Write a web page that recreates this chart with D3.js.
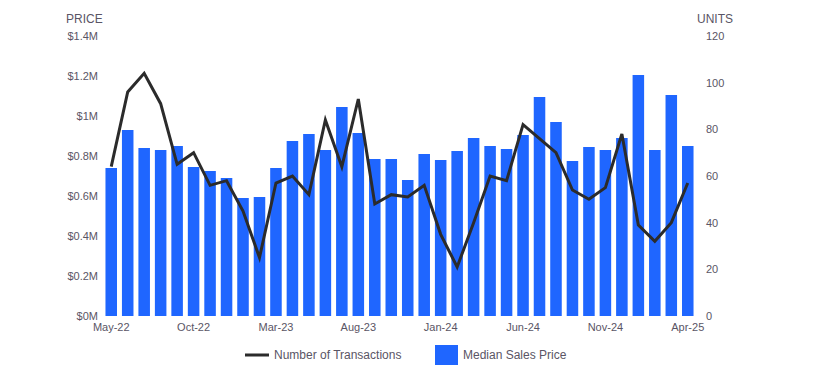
<!DOCTYPE html>
<html>
<head>
<meta charset="utf-8">
<script src="https://cdn.jsdelivr.net/npm/d3@7"></script>
<style>
  body { margin: 0; background: #fff; }
  text { font-family: "Liberation Sans", Arial, sans-serif; fill: #5a5565; }
</style>
</head>
<body>
<svg id="chart" width="816" height="380"></svg>
<script>
// months shown on the x axis
var months = ["May-22","Jun-22","Jul-22","Aug-22","Sep-22","Oct-22","Nov-22","Dec-22",
  "Jan-23","Feb-23","Mar-23","Apr-23","May-23","Jun-23","Jul-23","Aug-23","Sep-23","Oct-23",
  "Nov-23","Dec-23","Jan-24","Feb-24","Mar-24","Apr-24","May-24","Jun-24","Jul-24","Aug-24",
  "Sep-24","Oct-24","Nov-24","Dec-24","Jan-25","Feb-25","Mar-25","Apr-25"];

// median sales price, in $M
var medianPrice = [0.74, 0.93, 0.84, 0.83, 0.85, 0.745, 0.725, 0.69, 0.59, 0.595, 0.74, 0.875,
  0.91, 0.83, 1.045, 0.915, 0.785, 0.785, 0.68, 0.81, 0.78, 0.825, 0.89, 0.85,
  0.835, 0.905, 1.095, 0.97, 0.775, 0.845, 0.83, 0.89, 1.205, 0.83, 1.105, 0.85];

// number of transactions (units)
var transactions = [64, 96, 104, 91, 65, 70, 56, 58, 45, 25, 57, 60,
  52, 84, 64, 93, 48, 52, 51, 56, 35, 21, 40, 60,
  58, 82, 76, 70, 54, 50, 55, 78, 39, 32, 40, 57];

var priceTicks = [0, 0.2, 0.4, 0.6, 0.8, 1, 1.2, 1.4];
var unitTicks = [0, 20, 40, 60, 80, 100, 120];
var xTickLabels = ["May-22","Oct-22","Mar-23","Aug-23","Jan-24","Jun-24","Nov-24","Apr-25"];

var svg = d3.select("#chart");

var x = d3.scaleBand()
    .domain(months)
    .range([103, 696])
    .paddingInner(0.3)
    .paddingOuter(0.15);

var yPrice = d3.scaleLinear().domain([0, 1.4]).range([316, 36]);
var yUnits = d3.scaleLinear().domain([0, 120]).range([316, 36]);

// bars
svg.append("g")
    .selectAll("rect")
    .data(medianPrice)
    .enter().append("rect")
    .attr("x", function (d, i) { return x(months[i]); })
    .attr("y", function (d) { return yPrice(d); })
    .attr("width", x.bandwidth())
    .attr("height", function (d) { return yPrice(0) - yPrice(d); })
    .attr("fill", "#1f66ff");

// line
var line = d3.line()
    .x(function (d, i) { return x(months[i]) + x.bandwidth() / 2; })
    .y(function (d) { return yUnits(d); });

svg.append("path")
    .datum(transactions)
    .attr("d", line)
    .attr("fill", "none")
    .attr("stroke", "#2b2b2b")
    .attr("stroke-width", 3)
    .attr("stroke-linejoin", "miter");

// left axis
var fmtPrice = function (d) { return "$" + d3.format("~g")(+d.toFixed(1)) + "M"; };
var leftAxis = svg.append("g")
    .attr("transform", "translate(98,0)")
    .call(d3.axisLeft(yPrice).tickValues(priceTicks).tickSize(0).tickPadding(0).tickFormat(fmtPrice));
leftAxis.select(".domain").remove();
leftAxis.selectAll("text").attr("font-size", 11).style("font-family", null);

// right axis
var rightAxis = svg.append("g")
    .attr("transform", "translate(706,0)")
    .call(d3.axisRight(yUnits).tickValues(unitTicks).tickSize(0).tickPadding(0));
rightAxis.select(".domain").remove();
rightAxis.selectAll("text").attr("font-size", 11).style("font-family", null);

// bottom axis
var bottomAxis = svg.append("g")
    .attr("transform", "translate(0,321)")
    .call(d3.axisBottom(x).tickValues(xTickLabels).tickSize(0).tickPadding(2));
bottomAxis.select(".domain").remove();
bottomAxis.selectAll("text").attr("font-size", 11).style("font-family", null);

// axis titles
svg.append("text").attr("x", 66).attr("y", 23).attr("font-size", 12).text("PRICE");
svg.append("text").attr("x", 697).attr("y", 23).attr("font-size", 12).text("UNITS");

// legend
var leg = svg.append("g");
leg.append("line")
    .attr("x1", 245).attr("x2", 269)
    .attr("y1", 355).attr("y2", 355)
    .attr("stroke", "#2b2b2b").attr("stroke-width", 3);
leg.append("text").attr("x", 274).attr("y", 359).attr("font-size", 12)
    .text("Number of Transactions");
leg.append("rect")
    .attr("x", 435).attr("y", 345).attr("width", 23).attr("height", 20)
    .attr("fill", "#1f66ff");
leg.append("text").attr("x", 463).attr("y", 359).attr("font-size", 12)
    .text("Median Sales Price");
</script>
</body>
</html>
